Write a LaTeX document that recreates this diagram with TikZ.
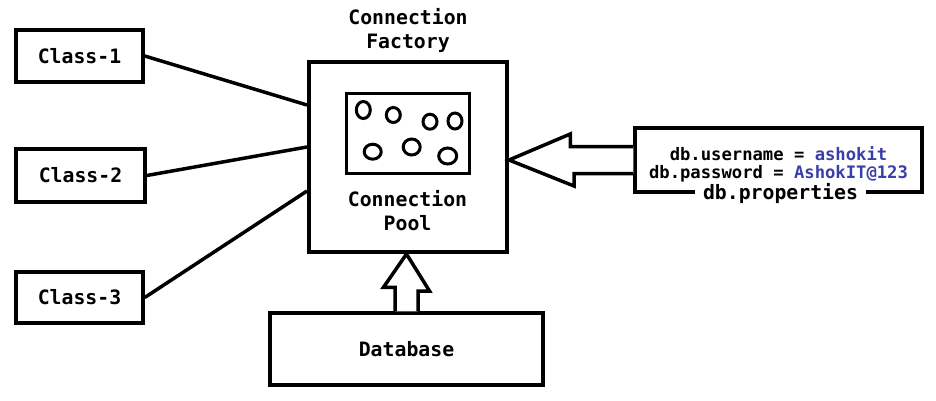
\documentclass[tikz,border=0pt]{standalone}
\usepackage{fontspec}
\setmonofont{DejaVu Sans Mono}
\usetikzlibrary{positioning,calc}
\definecolor{valblue}{RGB}{58,62,168}
\tikzset{
	box/.style={draw, line width=3.5pt, minimum width=#1},
	fat/.style={draw, line width=3.5pt, fill=white, line join=miter},
	bead/.style={draw, line width=3pt},
	txt/.style={font=\fontsize{19.8}{24}\selectfont\ttfamily\bfseries, align=center}
}
\begin{document}
\begin{tikzpicture}[x=1pt, y=-1pt]
		\useasboundingbox (0,0) rectangle (936,400);
		\node [box=127pt, minimum height=52pt, txt] (c1) at (79.5,56) {Class-1};
		\node [box=129pt, minimum height=53pt, txt] (c2) at (80.5,175.5) {Class-2};
		\node [box=127pt, minimum height=51pt, txt] (c3) at (79.5,297.5) {Class-3};
		\node [box=198pt, minimum height=190pt, line width=4pt] (factory) at (408,157) {};
		\node [box=123pt, minimum height=80pt, line width=3pt] (pool) at (407.5,133) {};
		\node [txt, below=12pt of pool] (pooltxt) {Connection\\Pool};
		\node [txt, above=4pt of factory] (title) {Connection\\Factory};
		\node [box=273pt, minimum height=72pt, txt] (db) at (406.5,349) {Database};
		\node [box=287pt, minimum height=64pt] (props) at (778.5,160) {};
		\node [font=\fontsize{17.2}{18}\selectfont\ttfamily\bfseries, align=center] (creds) at ([yshift=-4pt]props.center) {db.username = \textcolor{valblue}{ashokit}\\db.password = \textcolor{valblue}{AshokIT@123}};
		\node [txt, fill=white, inner xsep=8pt, inner ysep=1pt, xshift=2pt] (pname) at (props.south) {db.properties};
		\draw [line width=3.5pt] (c1.east) -- ([yshift=52pt]factory.west);
		\draw [line width=3.5pt] (c2.east) -- ([yshift=10pt]factory.west);
		\draw [line width=3.5pt] (c3.east) -- ([yshift=-34pt]factory.west);
		\foreach \x/\y/\a/\b in {363.3/110/7/8.5, 393.3/115/7/7.5, 430/121.7/7/7.5, 455/121/7/8, 372.7/151.7/8.5/7.5, 411.7/147/8.5/8, 447.7/156/9/8}
			\draw [bead] (\x,\y) ellipse (\a pt and \b pt);
		\draw [fat] ([xshift=-11.5pt]db.north) -- ++(0,-24) -- ++(-11.5,0) -- (db.north |- factory.south) -- ++(23,37) -- ++(-11.5,0) -- ([xshift=11.5pt]db.north);
		\draw [fat] ([yshift=13.5pt]props.west) -- ++(-63,0) -- ++(0,-12.5) -- (factory.east |- props.west) -- ++(65,26) -- ++(0,-12.5) -- ([yshift=-13.5pt]props.west);
	\end{tikzpicture}
\end{document}
